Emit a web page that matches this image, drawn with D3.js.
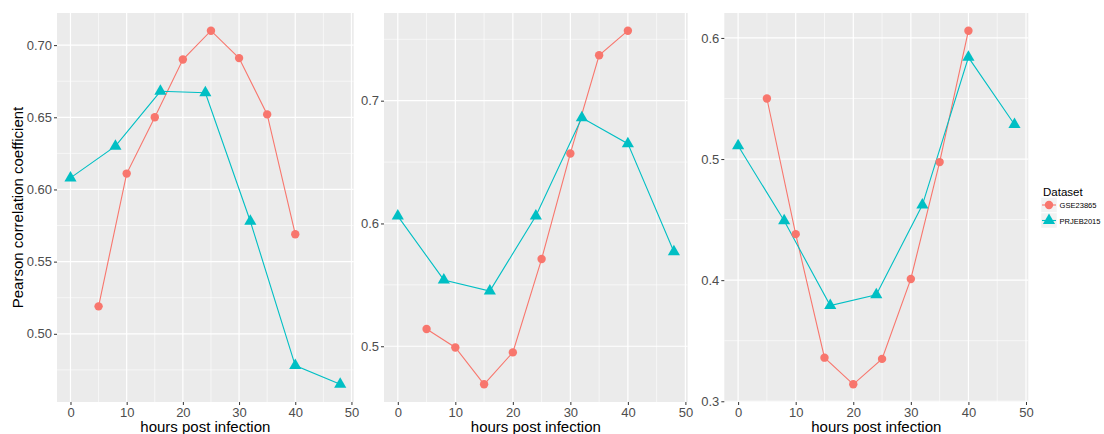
<!DOCTYPE html>
<html>
<head>
<meta charset="utf-8">
<script src="https://cdn.jsdelivr.net/npm/d3@7"></script>
<style>
  html, body { margin: 0; padding: 0; background: #fff; }
  svg { display: block; font-family: "Liberation Sans", Arial, sans-serif; }
</style>
</head>
<body>
<svg id="chart" width="1104" height="434"></svg>
<script>
// ---- data ----
const gseHours = [5, 10, 15, 20, 25, 30, 35, 40];
const prjHours = [0, 8, 16, 24, 32, 40, 48];

const gsePanel1 = [0.519, 0.611, 0.650, 0.690, 0.710, 0.691, 0.652, 0.569];
const prjPanel1 = [0.608, 0.630, 0.668, 0.667, 0.578, 0.478, 0.465];

const gsePanel2 = [0.514, 0.499, 0.469, 0.495, 0.571, 0.657, 0.737, 0.757];
const prjPanel2 = [0.606, 0.554, 0.545, 0.606, 0.686, 0.665, 0.577];

const gsePanel3 = [0.550, 0.438, 0.336, 0.314, 0.335, 0.401, 0.4975, 0.606];
const prjPanel3 = [0.511, 0.449, 0.379, 0.388, 0.462, 0.584, 0.5285];

const xTicks = [0, 10, 20, 30, 40, 50];
const yTicks1 = [0.50, 0.55, 0.60, 0.65, 0.70];
const yTicks2 = [0.5, 0.6, 0.7];
const yTicks3 = [0.3, 0.4, 0.5, 0.6];
const yFmt1 = ".2f", yFmt2 = ".1f", yFmt3 = ".1f";

const seriesNames = ["GSE23865", "PRJEB2015"];
const seriesColors = ["#F8766D", "#00BFC4"];

// ---- layout ----
const svg = d3.select("#chart");
const panels = [
  { left: 57,    right: 353.7,  gse: gsePanel1, prj: prjPanel1, yt: yTicks1, fmt: yFmt1 },
  { left: 384,   right: 687.7,  gse: gsePanel2, prj: prjPanel2, yt: yTicks2, fmt: yFmt2 },
  { left: 724.3, right: 1028.3, gse: gsePanel3, prj: prjPanel3, yt: yTicks3, fmt: yFmt3 }
];
const plotTop = 13, plotBottom = 402;

function expand(ext) {
  const d = (ext[1] - ext[0]) * 0.05;
  return [ext[0] - d, ext[1] + d];
}

panels.forEach((p, i) => {
  const allX = gseHours.concat(prjHours);
  const allY = p.gse.concat(p.prj);
  const x = d3.scaleLinear().domain(expand(d3.extent(allX))).range([p.left, p.right]);
  const y = d3.scaleLinear().domain(expand(d3.extent(allY))).range([plotBottom, plotTop]);

  const g = svg.append("g");
  g.append("rect").attr("x", p.left).attr("y", plotTop)
    .attr("width", p.right - p.left).attr("height", plotBottom - plotTop).attr("fill", "#EBEBEB");

  // minor grid
  const yd = y.domain();
  const xMinor = d3.range(5, 50, 10);
  const step = p.yt[1] - p.yt[0];
  const yMinor = [];
  for (let v = p.yt[0] - step / 2; v <= yd[1]; v += step) {
    if (v >= yd[0]) yMinor.push(v);
  }
  g.selectAll(".xmin").data(xMinor).join("line")
    .attr("x1", d => x(d)).attr("x2", d => x(d)).attr("y1", plotTop).attr("y2", plotBottom)
    .attr("stroke", "#fff").attr("stroke-width", 0.6);
  g.selectAll(".ymin").data(yMinor).join("line")
    .attr("x1", p.left).attr("x2", p.right).attr("y1", d => y(d)).attr("y2", d => y(d))
    .attr("stroke", "#fff").attr("stroke-width", 0.6);
  // major grid
  g.selectAll(".xmaj").data(xTicks).join("line")
    .attr("x1", d => x(d)).attr("x2", d => x(d)).attr("y1", plotTop).attr("y2", plotBottom)
    .attr("stroke", "#fff").attr("stroke-width", 1.2);
  g.selectAll(".ymaj").data(p.yt).join("line")
    .attr("x1", p.left).attr("x2", p.right).attr("y1", d => y(d)).attr("y2", d => y(d))
    .attr("stroke", "#fff").attr("stroke-width", 1.2);

  // axes
  const xAxis = d3.axisBottom(x).tickValues(xTicks).tickSize(3).tickPadding(3).tickFormat(d3.format("d"));
  const gx = g.append("g").attr("transform", `translate(0,${plotBottom})`).call(xAxis);
  gx.select(".domain").remove();
  gx.selectAll(".tick line").attr("stroke", "#333");
  gx.selectAll(".tick text").attr("fill", "#4D4D4D").style("font-size", "13px");

  const yAxis = d3.axisLeft(y).tickValues(p.yt).tickSize(3).tickPadding(2).tickFormat(d3.format(p.fmt));
  const gy = g.append("g").attr("transform", `translate(${p.left},0)`).call(yAxis);
  gy.select(".domain").remove();
  gy.selectAll(".tick line").attr("stroke", "#333");
  gy.selectAll(".tick text").attr("fill", "#4D4D4D").style("font-size", "13px");

  // x title
  g.append("text").attr("x", (p.left + p.right) / 2).attr("y", 432)
    .attr("text-anchor", "middle").style("font-size", "15px").attr("fill", "#000")
    .text("hours post infection");

  // series
  const line = d3.line().x(d => x(d[0])).y(d => y(d[1]));
  const gseData = gseHours.map((h, k) => [h, p.gse[k]]);
  const prjData = prjHours.map((h, k) => [h, p.prj[k]]);

  g.append("path").datum(gseData).attr("d", line).attr("fill", "none")
    .attr("stroke", seriesColors[0]).attr("stroke-width", 1.1);
  g.append("path").datum(prjData).attr("d", line).attr("fill", "none")
    .attr("stroke", seriesColors[1]).attr("stroke-width", 1.1);

  g.selectAll(".pt-gse").data(gseData).join("circle")
    .attr("cx", d => x(d[0])).attr("cy", d => y(d[1])).attr("r", 4.2)
    .attr("fill", seriesColors[0]);
  const tri = d3.symbol().type(d3.symbolTriangle).size(64);
  g.selectAll(".pt-prj").data(prjData).join("path")
    .attr("transform", d => `translate(${x(d[0])},${y(d[1])})`)
    .attr("d", tri).attr("fill", seriesColors[1]);
});

// y title
svg.append("text")
  .attr("transform", `translate(23,${(plotTop + plotBottom) / 2}) rotate(-90)`)
  .attr("text-anchor", "middle").style("font-size", "15px").attr("fill", "#000")
  .text("Pearson correlation coefficient");

// legend
const lg = svg.append("g");
lg.append("text").attr("x", 1043).attr("y", 196).style("font-size", "11.5px").attr("fill", "#000").text("Dataset");
const labelLens = [37, 41];
seriesNames.forEach((name, i) => {
  const cy = 205 + i * 15.5;
  lg.append("rect").attr("x", 1041).attr("y", cy - 7.5).attr("width", 16).attr("height", 15)
    .attr("fill", "#F2F2F2").attr("stroke", "#fff").attr("stroke-width", 0.5);
  lg.append("line").attr("x1", 1042).attr("x2", 1056).attr("y1", cy).attr("y2", cy)
    .attr("stroke", seriesColors[i]).attr("stroke-width", 1.1);
  if (i === 0) {
    lg.append("circle").attr("cx", 1049).attr("cy", cy).attr("r", 4.2).attr("fill", seriesColors[i]);
  } else {
    lg.append("path").attr("transform", `translate(1049,${cy})`)
      .attr("d", d3.symbol().type(d3.symbolTriangle).size(64)).attr("fill", seriesColors[i]);
  }
  lg.append("text").attr("x", 1059.5).attr("y", cy + 3).style("font-size", "8px").attr("fill", "#000")
    .attr("textLength", labelLens[i]).attr("lengthAdjust", "spacingAndGlyphs").text(name);
});
</script>
</body>
</html>
